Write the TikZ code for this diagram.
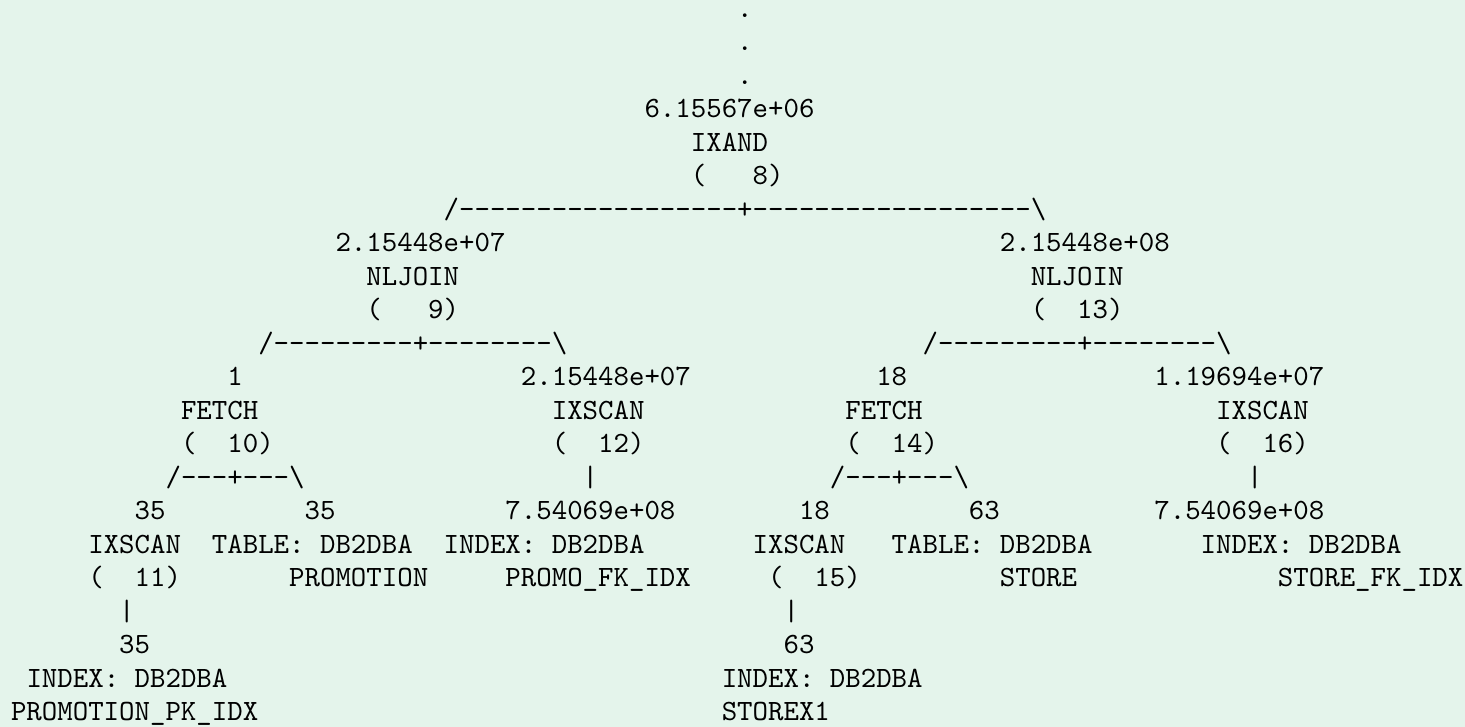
\documentclass[tikz,border=0pt]{standalone}
\usepackage{xcolor}
\usepackage{fontspec}
\newfontfamily\lmtten{lmmono10-regular}[Extension=.otf]
\definecolor{bgc}{RGB}{228,244,235}
\definecolor{txc}{RGB}{0,0,0}
\newlength\cwref
\newcommand\dashrun[1]{\foreach\k in {1,...,#1}{\hbox{-}}}
\newcommand\conn[2]{\hbox{/}\dashrun{#1}\hbox{+}\dashrun{#2}\hbox{\textbackslash}}
\newcommand\putt[4]{\node[tx] (#1) at ({11.05+#3*15.45},{17.2+#2*33.5}) {#4};}
\begin{document}
\settowidth\cwref{\fontsize{15pt}{18pt}\selectfont\lmtten 0}%
\pgfmathsetmacro\fsz{15*7.725/\cwref}%
\begin{tikzpicture}[x=0.5pt,y=-0.5pt]
\tikzset{tx/.style={anchor=base west,inner sep=0pt,outer sep=0pt,text=txc,
  font=\fontsize{\fsz pt}{\fsz pt}\selectfont\lmtten\frenchspacing}}
\fill[bgc] (0,0) rectangle (1465,727);
\useasboundingbox (0,0) rectangle (1465,727);
% top
\putt{d0}{0}{47}{.}
\putt{d1}{1}{47}{.}
\putt{d2}{2}{47}{.}
\putt{n8c}{3}{41}{6.15567e+06}
\putt{n8n}{4}{44}{IXAND}
\putt{n8i}{5}{44}{(~~~8)}
\putt{c8}{6}{28}{\conn{18}{18}}
% level 2
\putt{n9c}{7}{21}{2.15448e+07}
\putt{n13c}{7}{64}{2.15448e+08}
\putt{n9n}{8}{23}{NLJOIN}
\putt{n13n}{8}{66}{NLJOIN}
\putt{n9i}{9}{23}{(~~~9)}
\putt{n13i}{9}{66}{(~~13)}
\putt{c9}{10}{16}{\conn{9}{8}}
\putt{c13}{10}{59}{\conn{9}{8}}
% level 3
\putt{n10c}{11}{14}{1}
\putt{n12c}{11}{33}{2.15448e+07}
\putt{n14c}{11}{56}{18}
\putt{n16c}{11}{74}{1.19694e+07}
\putt{n10n}{12}{11}{FETCH}
\putt{n12n}{12}{35}{IXSCAN}
\putt{n14n}{12}{54}{FETCH}
\putt{n16n}{12}{78}{IXSCAN}
\putt{n10i}{13}{11}{(~~10)}
\putt{n12i}{13}{35}{(~~12)}
\putt{n14i}{13}{54}{(~~14)}
\putt{n16i}{13}{78}{(~~16)}
\putt{c10}{14}{10}{\conn{3}{3}}
\putt{c12}{14}{37}{|}
\putt{c14}{14}{53}{\conn{3}{3}}
\putt{c16}{14}{80}{|}
% level 4
\putt{n11c}{15}{8}{35}
\putt{t1c}{15}{19}{35}
\putt{i12c}{15}{32}{7.54069e+08}
\putt{n15c}{15}{51}{18}
\putt{t2c}{15}{62}{63}
\putt{i16c}{15}{74}{7.54069e+08}
\putt{n11n}{16}{5}{IXSCAN}
\putt{t1a}{16}{13}{TABLE:~DB2DBA}
\putt{i12a}{16}{28}{INDEX:~DB2DBA}
\putt{n15n}{16}{48}{IXSCAN}
\putt{t2a}{16}{57}{TABLE:~DB2DBA}
\putt{i16a}{16}{77}{INDEX:~DB2DBA}
\putt{n11i}{17}{5}{(~~11)}
\putt{t1b}{17}{18}{PROMOTION}
\putt{i12b}{17}{32}{PROMO\_FK\_IDX}
\putt{n15i}{17}{49}{(~~15)}
\putt{t2b}{17}{64}{STORE}
\putt{i16b}{17}{82}{STORE\_FK\_IDX}
% level 5
\putt{c11}{18}{7}{|}
\putt{c15}{18}{50}{|}
\putt{i11c}{19}{7}{35}
\putt{i15c}{19}{50}{63}
\putt{i11a}{20}{1}{INDEX:~DB2DBA}
\putt{i15a}{20}{46}{INDEX:~DB2DBA}
\putt{i11b}{21}{0}{PROMOTION\_PK\_IDX}
\putt{i15b}{21}{46}{STOREX1}
\end{tikzpicture}
\end{document}
